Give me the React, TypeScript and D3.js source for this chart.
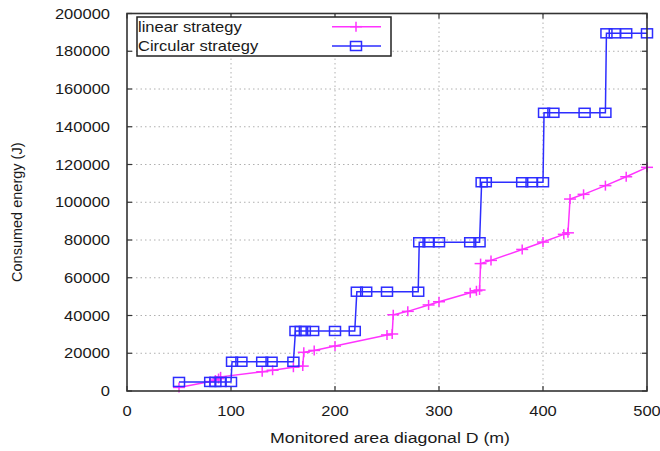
import React from "react";
import * as d3 from "d3";

const linearX = [50, 80, 85, 88, 90, 130, 140, 160, 169, 170, 180, 200, 250, 255, 256, 270, 290, 300, 330, 336, 339, 340, 350, 380, 400, 420, 424, 426, 439, 460, 480, 500];
const linearY = [1900, 5000, 5800, 6600, 7500, 10200, 11000, 12600, 13200, 20500, 21500, 23800, 29700, 30200, 40400, 42200, 45600, 47300, 52100, 53100, 53500, 67500, 69200, 75000, 78900, 83000, 83800, 101700, 104200, 108800, 113500, 118500];

const circularX = [50, 80, 85, 90, 100, 101, 110, 130, 139, 160, 162, 167, 171, 179, 200, 219, 221, 230, 250, 280, 281, 290, 300, 330, 339, 341, 345, 380, 389, 400, 401, 410, 440, 460, 461, 469, 480, 500];
const circularY = [4800, 4800, 4800, 4800, 4800, 15500, 15500, 15500, 15500, 15500, 31800, 31800, 31800, 31800, 31800, 31800, 52600, 52600, 52600, 52600, 78800, 78800, 78800, 78800, 78800, 110600, 110600, 110600, 110600, 110600, 147400, 147400, 147400, 147400, 189500, 189500, 189500, 189500];

const xTicks = [0, 100, 200, 300, 400, 500];
const yTicks = [0, 20000, 40000, 60000, 80000, 100000, 120000, 140000, 160000, 180000, 200000];

const seriesNames = ["linear strategy", "Circular strategy"];
const xLabel = "Monitored area diagonal D (m)";
const yLabel = "Consumed energy (J)";

const W = 660, H = 451;
const L = 127, R = 647, T = 13.5, B = 391;
const MAG = "#ff33ff";
const BLU = "#2d2dff";
const FONT = "'Liberation Sans', Arial, sans-serif";
const SX = 1.18;

function HText({ x, y, anchor, children, size = 14 }: any) {
  return (
    <text
      transform={`translate(${x},${y}) scale(${SX},1)`}
      textAnchor={anchor}
      fontSize={size}
      fontFamily={FONT}
      fill="#1a1a1a"
    >
      {children}
    </text>
  );
}

export default function App() {
  const x = d3.scaleLinear().domain([0, 500]).range([L, R]);
  const y = d3.scaleLinear().domain([0, 200000]).range([B, T]);
  const line = d3.line<[number, number]>().x((d) => x(d[0])).y((d) => y(d[1]));
  const lin: [number, number][] = linearX.map((v, i) => [v, linearY[i]]);
  const cir: [number, number][] = circularX.map((v, i) => [v, circularY[i]]);

  const plus = (cx: number, cy: number, key: any, c: string) => (
    <g key={key} stroke={c} strokeWidth={1.5}>
      <line x1={cx - 6} x2={cx + 6} y1={cy} y2={cy} />
      <line x1={cx} x2={cx} y1={cy - 5} y2={cy + 5} />
    </g>
  );
  const square = (cx: number, cy: number, key: any, c: string) => (
    <rect key={key} x={cx - 5.5} y={cy - 4.5} width={11} height={9} fill="none" stroke={c} strokeWidth={1.5} />
  );

  return (
    <svg width={W} height={H} style={{ position: "fixed", left: 0, top: 0, background: "#fff" }}>
      <rect x={0} y={0} width={W} height={H} fill="#fff" />
      {/* grid */}
      <g stroke="#b0b0b0" strokeWidth={1} strokeDasharray="1.5,3">
        {xTicks.slice(1, -1).map((t) => (
          <line key={"gx" + t} x1={x(t)} x2={x(t)} y1={T} y2={B} />
        ))}
        {yTicks.slice(1, -1).map((t) => (
          <line key={"gy" + t} x1={L} x2={R} y1={y(t)} y2={y(t)} />
        ))}
      </g>
      {/* ticks */}
      <g stroke="#333" strokeWidth={1.2}>
        {xTicks.map((t) => (
          <g key={"tx" + t}>
            <line x1={x(t)} x2={x(t)} y1={B} y2={B - 5} />
            <line x1={x(t)} x2={x(t)} y1={T} y2={T + 5} />
          </g>
        ))}
        {yTicks.map((t) => (
          <g key={"ty" + t}>
            <line x1={L} x2={L + 5} y1={y(t)} y2={y(t)} />
            <line x1={R} x2={R - 5} y1={y(t)} y2={y(t)} />
          </g>
        ))}
      </g>
      {/* data */}
      <path d={line(lin) || ""} fill="none" stroke={MAG} strokeWidth={1.5} />
      {lin.map((d, i) => plus(x(d[0]), y(d[1]), "p" + i, MAG))}
      <path d={line(cir) || ""} fill="none" stroke={BLU} strokeWidth={1.5} />
      {cir.map((d, i) => square(x(d[0]), y(d[1]), "s" + i, BLU))}
      {/* frame */}
      <rect x={L} y={T} width={R - L} height={B - T} fill="none" stroke="#333" strokeWidth={1.6} />
      {/* tick labels */}
      {xTicks.map((t) => (
        <HText key={"lx" + t} x={x(t)} y={416} anchor="middle">
          {String(t)}
        </HText>
      ))}
      {yTicks.map((t) => (
        <HText key={"ly" + t} x={110} y={y(t) + 5} anchor="end">
          {String(t)}
        </HText>
      ))}
      <HText x={390} y={443} anchor="middle" size={15}>
        {xLabel}
      </HText>
      <text
        transform={`translate(22,${(T + B) / 2 + 10}) rotate(-90)`}
        textAnchor="middle"
        fontSize={14.5}
        fontFamily={FONT}
        fill="#1a1a1a"
      >
        {yLabel}
      </text>
      {/* legend */}
      <rect x={137} y={17} width={254} height={39} fill="#fff" stroke="#222" strokeWidth={1.5} />
      <HText x={138} y={31.5} anchor="start">
        {seriesNames[0]}
      </HText>
      <HText x={138} y={50.5} anchor="start">
        {seriesNames[1]}
      </HText>
      <line x1={332} x2={381} y1={26.7} y2={26.7} stroke={MAG} strokeWidth={1.5} />
      {plus(356, 26.7, "lp", MAG)}
      <line x1={332} x2={381} y1={46} y2={46} stroke={BLU} strokeWidth={1.5} />
      {square(356, 46, "ls", BLU)}
    </svg>
  );
}
